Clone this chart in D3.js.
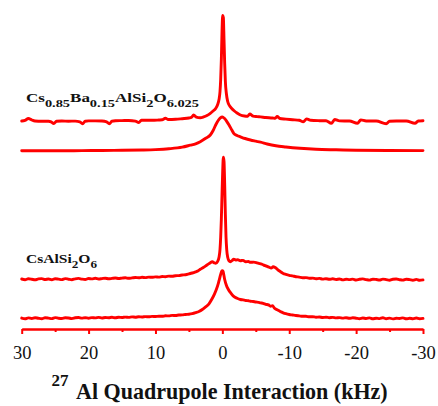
<!DOCTYPE html>
<html><head><meta charset="utf-8">
<script src="https://cdn.jsdelivr.net/npm/d3@7"></script>
<style>html,body{margin:0;padding:0;background:#fff;} svg{display:block}</style>
</head><body>
<svg id="chart" width="438" height="406"></svg>
<script>
// ---- DATA (kHz, intensity above each trace's baseline) ----
const traceBaTop = [[30,0.5],[29.5,1.2],[29,3],[28.5,1.5],[28,0.5],[27,0.2],[26,0.3],[25.6,-0.3],[25.2,-2],[24.8,0.2],[24,0.5],[23,0.3],[22,0.4],[21.3,-0.3],[20.9,-2.3],[20.5,0.3],[20,0.6],[19,0.6],[18,0.5],[17.3,-0.3],[16.9,-2.3],[16.5,0.3],[16,0.8],[15,0.9],[14,1.0],[13,0.4],[12.5,-1.0],[12.1,1.2],[11.5,1.2],[10.5,1.2],[9.5,1.5],[9,1.7],[8.5,3.2],[8.1,2.0],[7,2.2],[6,2.8],[5,3.5],[4.6,4.2],[4.3,6.5],[3.9,4.4],[3.3,3.8],[2.8,4.6],[2.3,6],[1.8,8.2],[1.4,10.5],[1.0,13],[0.7,17],[0.5,22],[0.35,30],[0.25,42],[0.15,62],[0.05,90],[-0.05,106],[-0.15,104],[-0.25,82],[-0.35,58],[-0.45,40],[-0.6,28],[-0.8,20],[-1.1,15.5],[-1.4,13],[-1.8,10.5],[-2.2,8.5],[-2.7,6.5],[-3.3,5.5],[-3.8,5.3],[-4.1,7.5],[-4.6,5.4],[-5.2,4.9],[-5.7,4.6],[-6.5,4],[-7.5,3.5],[-7.9,3.2],[-8.2,5],[-8.6,3],[-9.5,2.4],[-10.5,1.8],[-11.5,1.2],[-12.1,-0.2],[-12.6,2.6],[-13.2,1.2],[-14.5,0.8],[-15.5,0.7],[-16.3,-1.8],[-16.8,2.0],[-17.5,0.6],[-19,0.5],[-20.2,-1.8],[-20.7,1.6],[-21.5,0.5],[-23,0.5],[-24.5,-2.2],[-25,0.3],[-26,0.5],[-27.5,0.5],[-28.8,-1.8],[-29.3,0.5],[-30,0.8]];

const traceBaBottom = [[30,0],[27,0.1],[24,0],[21,0.2],[18,0.3],[15,0.5],[12,0.8],[10,1.2],[8,2],[6,3.6],[4.8,5.6],[4,7],[3.3,9.1],[2.5,12.5],[1.8,15.8],[1.4,20],[1.0,25.8],[0.6,30.5],[0.3,33],[0,33.8],[-0.3,32.5],[-0.6,30],[-1.0,25.8],[-1.4,21],[-1.7,17.5],[-2.2,15.3],[-2.7,14],[-3.4,12.3],[-4.2,10.8],[-5,9.6],[-5.7,8.6],[-6.7,6.8],[-8,5],[-9.5,3.8],[-11.6,2.5],[-14,1.5],[-17,1],[-20,0.6],[-25,0.3],[-30,0.2]];

const traceCsTop = [[30,0.3],[29.5,-0.4],[29,0.5],[28.5,0.1],[28,-0.5],[27.5,0.4],[27,0.7],[26.5,-0.2],[26,0.3],[25.5,-0.5],[25,0.6],[24.5,0.2],[24,-0.3],[23.5,0.7],[23,0.1],[22.5,-0.4],[22,0.5],[21.5,0.9],[21,0.2],[20.5,-0.2],[20,0.8],[19.5,0.4],[19,1.0],[18.5,0.3],[18,0.7],[17.5,1.1],[17,0.5],[16.5,0.9],[16,1.3],[15.5,0.8],[15,1.2],[14.5,1.5],[14,1.0],[13.5,1.4],[13,1.8],[12.5,1.5],[12,2.0],[11.5,1.7],[11,2.2],[10.5,2.0],[10,2.4],[9.5,2.2],[9,2.8],[8.5,2.6],[8,3.2],[7.5,3.0],[7,3.6],[6.5,3.7],[6,4.3],[5.5,4.6],[5,5.4],[4.5,6.3],[4,7.5],[3.6,8.6],[3.3,10],[2.8,12],[2.3,14.3],[1.9,16],[1.5,17.6],[1.2,16.5],[1.0,16],[0.7,18],[0.5,22],[0.35,30],[0.25,42],[0.15,60],[0.05,85],[-0.05,108],[-0.15,122],[-0.25,118],[-0.35,95],[-0.45,65],[-0.55,42],[-0.65,30],[-0.8,22],[-1.0,18.5],[-1.2,17.6],[-1.5,19],[-1.7,20.2],[-2.0,19.3],[-2.3,19.6],[-2.7,18.6],[-3.1,18.9],[-3.5,17.6],[-3.9,17.8],[-4.2,17],[-4.7,17.2],[-5.2,16.4],[-5.6,15.6],[-6.0,14.8],[-6.4,13.6],[-6.7,13],[-7.0,12],[-7.3,11.2],[-7.6,12.6],[-7.9,11.8],[-8.3,9.5],[-8.7,7.6],[-9.1,5.8],[-9.5,4.9],[-10,4.0],[-10.5,3.4],[-11,2.6],[-11.5,2.2],[-12,1.5],[-12.5,1.7],[-13,1.0],[-13.5,1.2],[-14,0.5],[-14.5,0.9],[-15,0.2],[-15.5,0.6],[-16,0],[-16.5,0.5],[-17,-0.2],[-17.5,0.3],[-18,-0.6],[-18.5,0.1],[-19,-0.3],[-19.5,0.2],[-20,-0.7],[-20.5,0],[-21,0.4],[-21.5,-0.3],[-22,-0.8],[-22.5,0.1],[-23,-0.2],[-23.5,-0.7],[-24,0.2],[-24.5,-0.3],[-25,-0.9],[-25.5,0],[-26,0.3],[-26.5,-0.4],[-27,-0.8],[-27.5,0.1],[-28,-0.3],[-28.5,-0.9],[-29,-0.1],[-29.5,-1.0],[-30,-0.6]];

const traceCsBottom = [[30,0.2],[29.5,-0.5],[29,0.4],[28.5,-0.2],[28,0.6],[27.5,0],[27,-0.4],[26.5,0.5],[26,0.2],[25.5,-0.3],[25,0.7],[24.5,0.1],[24,-0.2],[23.5,0.6],[23,0.3],[22.5,-0.3],[22,0.5],[21.5,0.8],[21,0.2],[20.5,0.6],[20,0.1],[19.5,0.7],[19,0.4],[18.5,0.9],[18,0.3],[17.5,0.8],[17,0.6],[16.5,1.0],[16,0.5],[15.5,1.1],[15,0.8],[14.5,1.2],[14,0.9],[13.5,1.4],[13,1.1],[12.5,1.5],[12,1.3],[11.5,1.7],[11,1.5],[10.5,1.9],[10,1.8],[9.5,2.1],[9,2.0],[8.5,2.5],[8,2.4],[7.5,2.9],[7,2.8],[6.5,3.3],[6,3.4],[5.5,3.8],[5,4.0],[4.5,4.6],[4.0,5.6],[3.5,6.8],[3,8.8],[2.5,11.5],[2,14.5],[1.6,18.8],[1.2,24],[0.9,28.8],[0.6,35],[0.45,38.8],[0.25,44],[0.1,47],[0,47.5],[-0.1,47],[-0.2,44],[-0.35,38.8],[-0.6,33],[-0.9,28.8],[-1.3,25],[-1.7,22],[-2.2,20],[-2.7,18.8],[-3.1,18.4],[-3.5,17.8],[-3.9,17.6],[-4.2,17],[-4.6,16.8],[-5,16.3],[-5.4,16.0],[-5.7,15.5],[-6.1,15],[-6.5,14],[-6.9,13.4],[-7.2,12],[-7.5,12.6],[-7.8,10],[-8.2,8.6],[-8.5,7.5],[-8.8,6.4],[-9.1,5.5],[-9.5,4.6],[-10,3.8],[-10.5,3.3],[-11,2.8],[-11.5,2.4],[-12,2.0],[-12.5,2.0],[-13,1.5],[-13.5,1.6],[-14,1.1],[-14.5,1.3],[-15,0.8],[-15.5,1.1],[-16,0.6],[-16.5,0.9],[-17,0.4],[-17.5,0.7],[-18,0.2],[-18.5,0.6],[-19,0],[-19.5,0.5],[-20,0.1],[-20.5,-0.4],[-21,0.3],[-21.5,-0.2],[-22,0.4],[-22.5,-0.5],[-23,0.1],[-23.5,-0.3],[-24,0.5],[-24.5,-0.4],[-25,0.2],[-25.5,-0.6],[-26,0.1],[-26.5,-0.2],[-27,0.4],[-27.5,-0.5],[-28,0],[-28.5,-0.4],[-29,0.3],[-29.5,-0.5],[-30,-0.1]];

const traces = [traceBaTop, traceBaBottom, traceCsTop, traceCsBottom];
const offsets = [218.5, 189.2, 60.7, 21.7];   // stacking offset of each trace (intensity units)
const majorTicks = [30, 20, 10, 0, -10, -20, -30];
const minorTicks = [25, 15, 5, -5, -15, -25];
const xDomain = [30, -30];
const xTitleSup = "27";
const xTitle = "Al Quadrupole Interaction (kHz)";
// sample labels: [text, isSubscript]
const labelBa = [["Cs",false],["0.85",true],["Ba",false],["0.15",true],["AlSi",false],["2",true],["O",false],["6.025",true]];
const labelCs = [["CsAlSi",false],["2",true],["O",false],["6",true]];

// ---- DRAWING ----
const svg = d3.select("#chart");
const RED = "#ff0000";
const SERIF = "'Liberation Serif','Times New Roman',Times,serif";

const x = d3.scaleLinear().domain(xDomain).range([21.7, 423]);
const y = d3.scaleLinear().domain([0, 330]).range([340, 10]);

const line = d3.line().curve(d3.curveMonotoneX);

traces.forEach((t, i) => {
  svg.append("path")
    .attr("d", line(t.map(d => [x(d[0]), y(d[1] + offsets[i])])))
    .attr("fill", "none")
    .attr("stroke", RED)
    .attr("stroke-width", 2.9)
    .attr("stroke-linejoin", "round")
    .attr("stroke-linecap", "round");
});

// axis
const axisY = 329;
const gMinor = svg.append("g").attr("transform", `translate(0,${axisY})`)
  .call(d3.axisBottom(x).tickValues(minorTicks).tickSize(3).tickSizeOuter(0).tickFormat(""));
const gMajor = svg.append("g").attr("transform", `translate(0,${axisY})`)
  .call(d3.axisBottom(x).tickValues(majorTicks).tickSize(5).tickSizeOuter(0).tickPadding(12)
        .tickFormat(d => d3.format("d")(d).replace("−", "-")));
[gMinor, gMajor].forEach(g => {
  g.select(".domain").attr("stroke", RED).attr("stroke-width", 2.6);
  g.selectAll(".tick line").attr("stroke", RED).attr("stroke-width", 2);
  g.selectAll(".tick text").attr("fill", "#111").attr("font-family", SERIF).attr("font-size", 18.5);
});
gMinor.select(".domain").remove();

// axis title
svg.append("text").attr("x", 51.5).attr("y", 386)
  .attr("font-family", SERIF).attr("font-weight", "bold").attr("font-size", 17).attr("fill", "#111")
  .text(xTitleSup);
const title = svg.append("text").attr("x", 76).attr("y", 398.5)
  .attr("font-family", SERIF).attr("font-weight", "bold").attr("font-size", 20).attr("fill", "#111")
  .text(xTitle);
const tw = title.node().getComputedTextLength();
title.attr("font-size", 20 * 312 / tw);

// sample labels
function drawLabel(parts, x0, baseline, width) {
  const t = svg.append("text").attr("x", x0).attr("y", baseline)
    .attr("font-family", SERIF).attr("font-weight", "bold").attr("fill", "#111");
  let sub = false;
  parts.forEach(([s, isSub]) => {
    const ts = t.append("tspan").text(s).attr("font-size", isSub ? 11 : 13);
    if (isSub !== sub) ts.attr("dy", isSub ? 5 : -5);
    sub = isSub;
  });
  t.attr("textLength", width).attr("lengthAdjust", "spacingAndGlyphs");
}
drawLabel(labelBa, 26, 102, 173);
drawLabel(labelCs, 26, 263.3, 71);
</script>
</body></html>
